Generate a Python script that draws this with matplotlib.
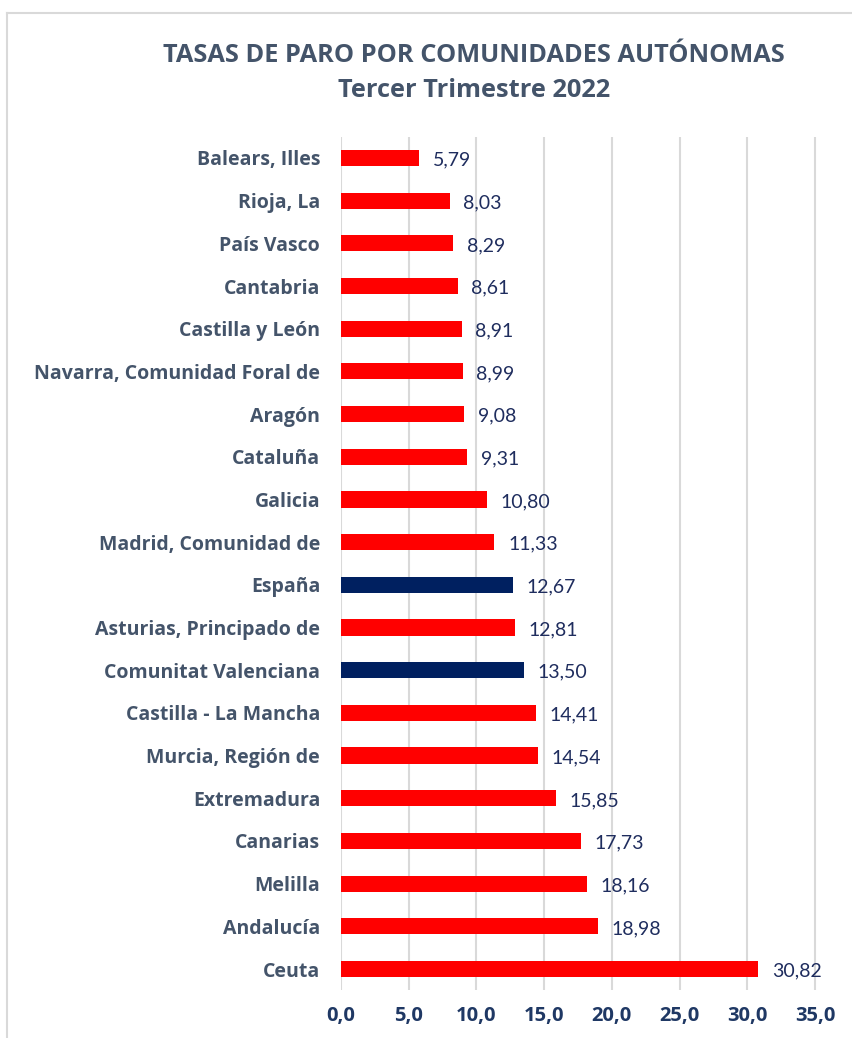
import numpy as np
import matplotlib.pyplot as plt
from matplotlib.lines import Line2D

regions = ["Balears, Illes", "Rioja, La", "País Vasco", "Cantabria", "Castilla y León",
           "Navarra, Comunidad Foral de", "Aragón", "Cataluña", "Galicia",
           "Madrid, Comunidad de", "España", "Asturias, Principado de",
           "Comunitat Valenciana", "Castilla - La Mancha", "Murcia, Región de",
           "Extremadura", "Canarias", "Melilla", "Andalucía", "Ceuta"]
rates = [5.79, 8.03, 8.29, 8.61, 8.91, 8.99, 9.08, 9.31, 10.80, 11.33,
         12.67, 12.81, 13.50, 14.41, 14.54, 15.85, 17.73, 18.16, 18.98, 30.82]
highlight = ["España", "Comunitat Valenciana"]
xticks = [0, 5, 10, 15, 20, 25, 30, 35]

plt.rcParams['font.family'] = ['Lato', 'DejaVu Sans']
bold = ['Open Sans', 'DejaVu Sans']

fig = plt.figure(figsize=(8.53, 10.38), dpi=100)
ax = fig.add_axes([0.3998, 0.0459, 0.5605, 0.8225])

y = np.arange(len(regions))
colors = ['#002060' if r in highlight else '#FF0000' for r in regions]
ax.barh(y, rates, height=0.38, color=colors, zorder=3)

for yi, v in zip(y, rates):
    ax.text(v + 1.0, yi + 0.05, f"{v:.2f}".replace('.', ','), va='center', ha='left',
            fontsize=14, color='#1F2D5E')

ax.set_ylim(len(regions) - 0.5, -0.5)
ax.set_xlim(0, 35.3)
ax.set_yticks(y)
ax.set_yticklabels(regions, fontsize=14, fontweight='bold', color='#44546A', family=bold)
ax.set_xticks(xticks)
ax.set_xticklabels([f"{t:.1f}".replace('.', ',') for t in xticks],
                   fontsize=14.5, fontweight='bold', color='#1F3864', family=bold)
ax.tick_params(axis='y', length=0, pad=15)
ax.tick_params(axis='x', length=0, pad=11)
ax.grid(axis='x', color='#D9D9D9', linewidth=1.5, zorder=0)
for s in ax.spines.values():
    s.set_visible(False)

fig.text(0.5557, 0.947, "TASAS DE PARO POR COMUNIDADES AUTÓNOMAS", ha='center', va='center',
         fontsize=18.3, fontweight='bold', color='#44546A', family=bold)
fig.text(0.5557, 0.913, "Tercer Trimestre 2022", ha='center', va='center',
         fontsize=18.3, fontweight='bold', color='#44546A', family=bold)

# chart border, only left and top visible
fig.add_artist(Line2D([7/853, 7/853], [0, 1 - 13/1038], color='#D9D9D9', linewidth=1.5,
                      transform=fig.transFigure))
fig.add_artist(Line2D([7/853, 1], [1 - 13/1038, 1 - 13/1038], color='#D9D9D9', linewidth=1.5,
                      transform=fig.transFigure))

fig.savefig("out.png", dpi=100)
